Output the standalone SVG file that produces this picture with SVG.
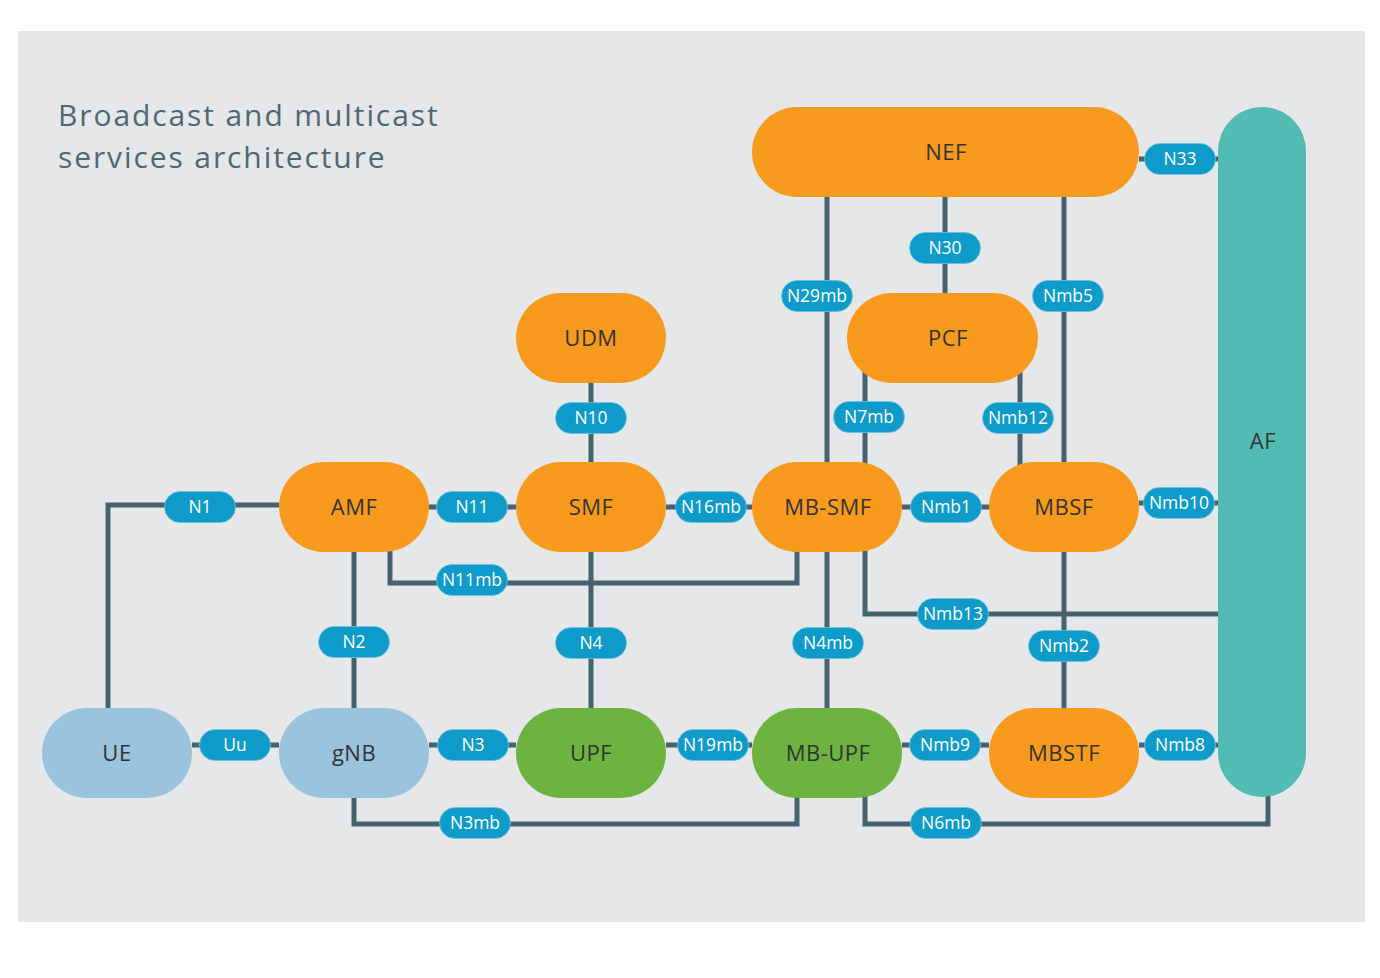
<svg xmlns="http://www.w3.org/2000/svg" width="1380" height="978" viewBox="0 0 1380 978">
  <style>
    .wire { fill: none; stroke: #47626f; stroke-width: 5; }
    .node-text { font-family: "Open Sans", "Liberation Sans", sans-serif; font-size: 22px; fill: #333; text-anchor: middle; letter-spacing: 0.5px; }
    .orange { fill: #f89a1e; }
    .green { fill: #6db33f; }
    .ran { fill: #9ac3de; }
    .teal { fill: #52bbb4; }
    .lbl rect { fill: #0e9bc9; stroke: #6cc3e0; stroke-width: 0.8; }
    .lbl text { font-family: "Open Sans", "Liberation Sans", sans-serif; font-size: 17.5px; fill: #fff; text-anchor: middle; }
    .title { font-family: "Open Sans", "Liberation Sans", sans-serif; font-size: 30px; fill: #4d6973; letter-spacing: 1.9px; }
  </style>

  <rect x="0" y="0" width="1380" height="978" fill="#ffffff"/>
  <rect x="18" y="31" width="1347" height="891" fill="#e6e7e9"/>

  <text class="title" x="58" y="126">Broadcast and multicast</text>
  <text class="title" x="58" y="168">services architecture</text>

  <!-- interfaces -->
  <g id="connectors">
    <path class="wire" d="M108,708 V505 H279"/>
    <path class="wire" d="M192,745 H279"/>
    <path class="wire" d="M429,507 H516"/>
    <path class="wire" d="M666,507 H752"/>
    <path class="wire" d="M902,507 H989"/>
    <path class="wire" d="M1139,503 H1218"/>
    <path class="wire" d="M1139,159 H1218"/>
    <path class="wire" d="M945,197 V293"/>
    <path class="wire" d="M827,197 V462"/>
    <path class="wire" d="M1064,197 V462"/>
    <path class="wire" d="M591,383 V462"/>
    <path class="wire" d="M865,370 V490"/>
    <path class="wire" d="M1020,370 V470"/>
    <path class="wire" d="M354,552 V708"/>
    <path class="wire" d="M390,540 V583 H797 V540"/>
    <path class="wire" d="M591,552 V708"/>
    <path class="wire" d="M827,552 V708"/>
    <path class="wire" d="M865,540 V614 H1218"/>
    <path class="wire" d="M1064,552 V708"/>
    <path class="wire" d="M429,745 H516"/>
    <path class="wire" d="M666,745 H752"/>
    <path class="wire" d="M902,745 H989"/>
    <path class="wire" d="M1139,745 H1218"/>
    <path class="wire" d="M354,790 V824 H797 V790"/>
    <path class="wire" d="M865,790 V824 H1268 V790"/>
  </g>

  <!-- network functions -->
  <g id="nef"><rect class="orange" x="752" y="107" width="387" height="90" rx="45"/><text class="node-text" x="946" y="160">NEF</text></g>
  <g id="af"><rect class="teal" x="1218" y="107" width="88" height="690" rx="44"/><text class="node-text" x="1263" y="449">AF</text></g>
  <g id="udm"><rect class="orange" x="516" y="293" width="150" height="90" rx="45"/><text class="node-text" x="591" y="346">UDM</text></g>
  <g id="pcf"><rect class="orange" x="847" y="293" width="191" height="90" rx="45"/><text class="node-text" x="948" y="346">PCF</text></g>
  <g id="amf"><rect class="orange" x="279" y="462" width="150" height="90" rx="45"/><text class="node-text" x="354" y="515">AMF</text></g>
  <g id="smf"><rect class="orange" x="516" y="462" width="150" height="90" rx="45"/><text class="node-text" x="591" y="515">SMF</text></g>
  <g id="mb-smf"><rect class="orange" x="752" y="462" width="150" height="90" rx="45"/><text class="node-text" x="828" y="515">MB-SMF</text></g>
  <g id="mbsf"><rect class="orange" x="989" y="462" width="150" height="90" rx="45"/><text class="node-text" x="1064" y="515">MBSF</text></g>
  <g id="ue"><rect class="ran" x="42" y="708" width="150" height="90" rx="45"/><text class="node-text" x="117" y="761">UE</text></g>
  <g id="gnb"><rect class="ran" x="279" y="708" width="150" height="90" rx="45"/><text class="node-text" x="354" y="761">gNB</text></g>
  <g id="upf"><rect class="green" x="516" y="708" width="150" height="90" rx="45"/><text class="node-text" x="591" y="761">UPF</text></g>
  <g id="mb-upf"><rect class="green" x="752" y="708" width="150" height="90" rx="45"/><text class="node-text" x="828" y="761">MB-UPF</text></g>
  <g id="mbstf"><rect class="orange" x="989" y="708" width="150" height="90" rx="45"/><text class="node-text" x="1064" y="761">MBSTF</text></g>

  <!-- interface labels -->
  <g id="labels">
    <g class="lbl"><rect x="164.5" y="491.5" width="71" height="31" rx="15.5"/><text x="200" y="513">N1</text></g>
    <g class="lbl"><rect x="199.5" y="729.5" width="71" height="31" rx="15.5"/><text x="235" y="751">Uu</text></g>
    <g class="lbl"><rect x="436.5" y="491.5" width="71" height="31" rx="15.5"/><text x="472" y="513">N11</text></g>
    <g class="lbl"><rect x="675.5" y="491.5" width="71" height="31" rx="15.5"/><text x="711" y="513">N16mb</text></g>
    <g class="lbl"><rect x="910.5" y="491.5" width="71" height="31" rx="15.5"/><text x="946" y="513">Nmb1</text></g>
    <g class="lbl"><rect x="1143.5" y="487.5" width="71" height="31" rx="15.5"/><text x="1179" y="509">Nmb10</text></g>
    <g class="lbl"><rect x="1144.5" y="143.5" width="71" height="31" rx="15.5"/><text x="1180" y="165">N33</text></g>
    <g class="lbl"><rect x="909.5" y="232.5" width="71" height="31" rx="15.5"/><text x="945" y="254">N30</text></g>
    <g class="lbl"><rect x="781.5" y="280.5" width="71" height="31" rx="15.5"/><text x="817" y="302">N29mb</text></g>
    <g class="lbl"><rect x="1032.5" y="280.5" width="71" height="31" rx="15.5"/><text x="1068" y="302">Nmb5</text></g>
    <g class="lbl"><rect x="555.5" y="402.5" width="71" height="31" rx="15.5"/><text x="591" y="424">N10</text></g>
    <g class="lbl"><rect x="833.5" y="401.5" width="71" height="31" rx="15.5"/><text x="869" y="423">N7mb</text></g>
    <g class="lbl"><rect x="982.5" y="402.5" width="71" height="31" rx="15.5"/><text x="1018" y="424">Nmb12</text></g>
    <g class="lbl"><rect x="318.5" y="626.5" width="71" height="31" rx="15.5"/><text x="354" y="648">N2</text></g>
    <g class="lbl"><rect x="436.5" y="564.5" width="71" height="31" rx="15.5"/><text x="472" y="586">N11mb</text></g>
    <g class="lbl"><rect x="555.5" y="627.5" width="71" height="31" rx="15.5"/><text x="591" y="649">N4</text></g>
    <g class="lbl"><rect x="792.5" y="627.5" width="71" height="31" rx="15.5"/><text x="828" y="649">N4mb</text></g>
    <g class="lbl"><rect x="917.5" y="598.5" width="71" height="31" rx="15.5"/><text x="953" y="620">Nmb13</text></g>
    <g class="lbl"><rect x="1028.5" y="630.5" width="71" height="31" rx="15.5"/><text x="1064" y="652">Nmb2</text></g>
    <g class="lbl"><rect x="437.5" y="729.5" width="71" height="31" rx="15.5"/><text x="473" y="751">N3</text></g>
    <g class="lbl"><rect x="677.5" y="729.5" width="71" height="31" rx="15.5"/><text x="713" y="751">N19mb</text></g>
    <g class="lbl"><rect x="909.5" y="729.5" width="71" height="31" rx="15.5"/><text x="945" y="751">Nmb9</text></g>
    <g class="lbl"><rect x="1144.5" y="729.5" width="71" height="31" rx="15.5"/><text x="1180" y="751">Nmb8</text></g>
    <g class="lbl"><rect x="439.5" y="807.5" width="71" height="31" rx="15.5"/><text x="475" y="829">N3mb</text></g>
    <g class="lbl"><rect x="910.5" y="807.5" width="71" height="31" rx="15.5"/><text x="946" y="829">N6mb</text></g>
  </g>
</svg>
